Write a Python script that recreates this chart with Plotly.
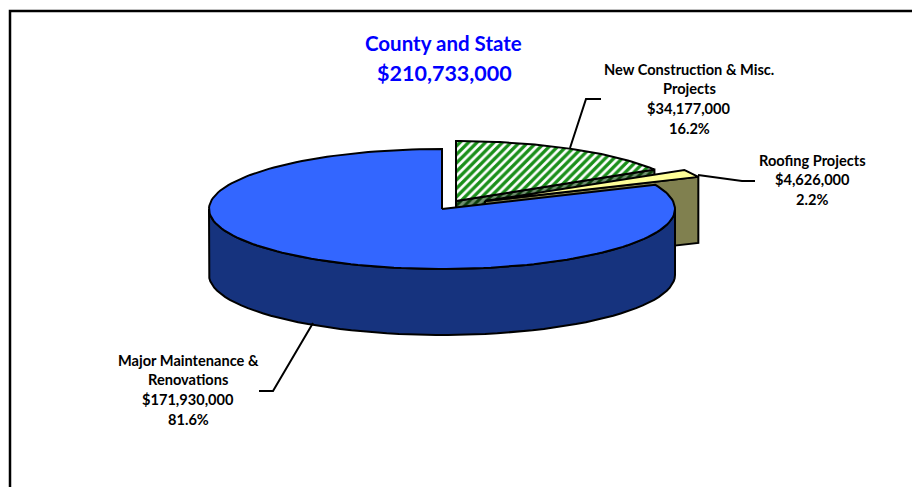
import numpy as np
import plotly.graph_objects as go

# ---- data ----
categories = ["New Construction & Misc. Projects", "Roofing Projects", "Major Maintenance & Renovations"]
values = [34177000, 4626000, 171930000]
title_lines = ["County and State", "$210,733,000"]
label_lines = [["New Construction & Misc.", "Projects"], ["Roofing Projects"], ["Major Maintenance &", "Renovations"]]

# ---- drawing style ----
W, H = 912, 487
RX, RY, DEPTH = 233, 60, 66
centres = [(456, 201), (485, 201), (442, 209)]
OUT = dict(color="black", width=2)
fig = go.Figure()
total = sum(values)
cum = np.cumsum([0] + values) / total * 2 * np.pi


def arc(c, a0, a1, n=60, dy=0):
    t = np.linspace(a0, a1, n)
    return c[0] + RX * np.sin(t), c[1] + dy - RY * np.cos(t)


def poly(x, y, color=None, pattern=None, line=OUT):
    x, y = list(x) + [x[0]], list(y) + [y[0]]
    kw = dict(fillpattern=pattern) if pattern else {}
    fig.add_trace(go.Scatter(x=x, y=y, mode="lines", fill="toself", fillcolor=color,
                             line=line, hoverinfo="skip", showlegend=False, **kw))


# New construction: cut face, then top
c = centres[0]
ax, ay = arc(c, cum[0], cum[1])
poly([c[0], ax[-1], ax[-1], c[0]], [c[1], ay[-1], ay[-1] + DEPTH, c[1] + DEPTH], "#ffffff",
     dict(shape="/", fgcolor="#0b3d0b", bgcolor="#6f8f6f", size=6, solidity=0.5,
          fgopacity=1, fillmode="replace"))
poly([c[0], *ax], [c[1], *ay], "#ffffff",
     dict(shape="/", fgcolor="#1a8f1a", bgcolor="#ffffff", size=6, solidity=0.55,
          fgopacity=1, fillmode="replace"))

# Roofing: visible cut face, then top
c = centres[1]
ax, ay = arc(c, cum[1], cum[2], 20)
poly([c[0], ax[-1], ax[-1], c[0]], [c[1], ay[-1], ay[-1] + DEPTH, c[1] + DEPTH], "#80804f")
poly([c[0], *ax], [c[1], *ay], "#ffff99")

# Major maintenance: outer wall, then top
c = centres[2]
wx, wy = arc(c, np.pi / 2, 3 * np.pi / 2)
bx, by = arc(c, 3 * np.pi / 2, np.pi / 2, dy=DEPTH)
poly([*wx, *bx], [*wy, *by], "#16337e")
ax, ay = arc(c, cum[2], cum[3], 160)
poly([c[0], *ax], [c[1], *ay], "#3366ff")


def line(x, y, width=2):
    fig.add_trace(go.Scatter(x=x, y=y, mode="lines", line=dict(color="black", width=width),
                             hoverinfo="skip", showlegend=False))


# leader lines
line([601, 586, 570], [99, 99, 148])
line([698, 742, 755], [175, 181, 181])
line([313, 273, 259], [323, 391, 391])
# chart frame
line([10, 10, 912], [487, 11, 11], 2.5)


def text(x, y, s, size=14.6, color="black"):
    fig.add_annotation(x=x, y=y, text=f"<b>{s}</b>", showarrow=False, xanchor="center", yanchor="middle",
                       font=dict(family="Lato", size=size, color=color))


text(443, 43, title_lines[0], 20.5, "#0000ff")
text(444, 73, title_lines[1], 21.5, "#0000ff")

label_pos = [(689, 69), (812, 160), (188, 360)]
for (x, y0), lines, v in zip(label_pos, label_lines, values):
    rows = lines + [f"${v:,}", f"{v / total * 100:.1f}%"]
    for i, r in enumerate(rows):
        text(x, y0 + i * 19.8, r)

fig.update_layout(
    width=W, height=H, margin=dict(l=0, r=0, t=0, b=0), autosize=False,
    paper_bgcolor="white", plot_bgcolor="white", showlegend=False,
    xaxis=dict(range=[0, W], visible=False, fixedrange=True),
    yaxis=dict(range=[H, 0], visible=False, fixedrange=True),
)
fig.write_html("out.html", config=dict(displayModeBar=False),
               post_script="document.body.style.margin='0';document.documentElement.style.overflow='hidden';")
